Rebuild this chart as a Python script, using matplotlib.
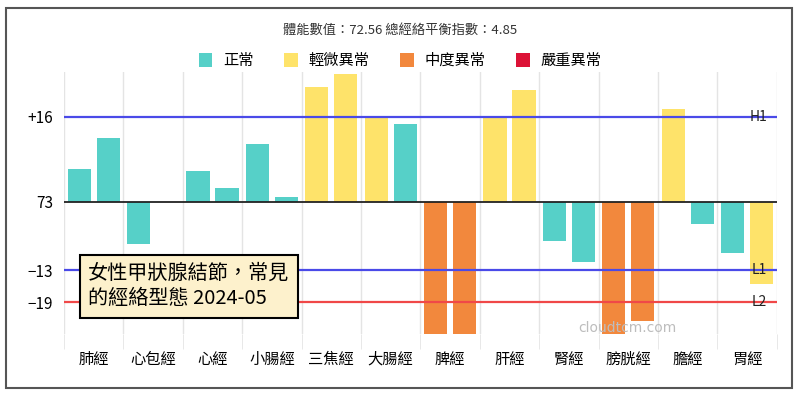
import matplotlib
matplotlib.use("Agg")
import matplotlib.pyplot as plt
from matplotlib.patches import Patch, Rectangle
from matplotlib.transforms import blended_transform_factory

plt.rcParams["font.family"] = ["Noto Sans CJK TC", "DejaVu Sans"]

# Meridians and the two readings per meridian (offset from baseline 73).
meridians = ["肺經", "心包經", "心經", "小腸經", "三焦經", "大腸經",
             "脾經", "肝經", "腎經", "膀胱經", "膽經", "胃經"]
first_vals = [6.2, -8.1, 5.8, 10.9, 21.7, 16.0, -26, 16.2, -7.5, -26, 17.5, -9.8]
second_vals = [12.0, 0, 2.6, 0.9, 24.1, 14.6, -26, 21.1, -11.4, -22.5, -4.2, -15.5]
# 0 = 正常, 1 = 輕微異常, 2 = 中度異常, 3 = 嚴重異常
first_level = [0, 0, 0, 0, 1, 1, 2, 1, 0, 2, 1, 0]
second_level = [0, 0, 0, 0, 1, 0, 2, 1, 0, 2, 0, 1]

level_names = ["正常", "輕微異常", "中度異常", "嚴重異常"]
level_colors = ["#56d0c8", "#fee36a", "#f2883d", "#dc1236"]

ref_values = [16, -13, -19]
ref_labels = ["H1", "L1", "L2"]
ref_colors = ["#4a4ae8", "#4a4ae8", "#f04848"]
ytick_vals = [16, 0, -13, -19]
ytick_labels = ["+16", "73", "−13", "−19"]

fig = plt.figure(figsize=(8, 3.99), dpi=100)
ax = fig.add_axes([0.08, 0.163, 0.891, 0.657])

x = list(range(len(meridians)))
ax.bar([i - 0.245 for i in x], first_vals, width=0.39,
       color=[level_colors[k] for k in first_level], zorder=2)
ax.bar([i + 0.245 for i in x], second_vals, width=0.39,
       color=[level_colors[k] for k in second_level], zorder=2)

ax.axhline(0, color="#222222", lw=1.3, zorder=3)
trans = blended_transform_factory(ax.transAxes, ax.transData)
for v, lab, c in zip(ref_values, ref_labels, ref_colors):
    ax.axhline(v, color=c, lw=1.6, zorder=3)
    ax.text(0.975, v, lab, transform=trans, ha="center", va="center",
            fontsize=10, color="#222222", zorder=4)

ax.set_xlim(-0.5, len(meridians) - 0.5)
ax.set_ylim(-25, 24.5)
ax.set_xticks(x)
ax.set_xticklabels(meridians, fontsize=11)
ax.set_xticks([i - 0.5 for i in range(len(meridians) + 1)], minor=True)
ax.tick_params(axis="x", which="major", length=0, pad=12)
ax.tick_params(axis="x", which="minor", length=11, color="#e4e4e4")
ax.grid(axis="x", which="minor", color="#e4e4e4", lw=1, zorder=0)
ax.set_yticks(ytick_vals)
ax.set_yticklabels(ytick_labels, fontsize=11)
ax.tick_params(axis="y", length=0, pad=8)
for s in ax.spines.values():
    s.set_visible(False)

fig.text(0.5, 0.925, "體能數值：72.56 總經絡平衡指數：4.85",
         ha="center", va="center", fontsize=9.5, color="#333333")

handles = [Patch(facecolor=c, edgecolor="none") for c in level_colors]
fig.legend(handles, level_names, loc="center", bbox_to_anchor=(0.5, 0.848),
           ncol=4, frameon=False, fontsize=11, handlelength=0.9,
           handleheight=1.0, handletextpad=0.7, columnspacing=2.0)

fig.text(0.11, 0.283, "女性甲狀腺結節，常見\n的經絡型態 2024-05",
         ha="left", va="center", fontsize=14.5, linespacing=1.25, zorder=5,
         bbox=dict(boxstyle="square,pad=0.42", facecolor="#fdf1cc",
                   edgecolor="black", lw=1.5))

fig.text(0.784, 0.178, "cloudtcm.com", ha="center", va="center",
         fontsize=10, color="#bdbdbd", family="DejaVu Sans")

fig.patches.append(Rectangle((0.007, 0.028), 0.983, 0.952,
                             transform=fig.transFigure, fill=False,
                             edgecolor="#555555", lw=1.5))

fig.savefig("out.png", dpi=100)
